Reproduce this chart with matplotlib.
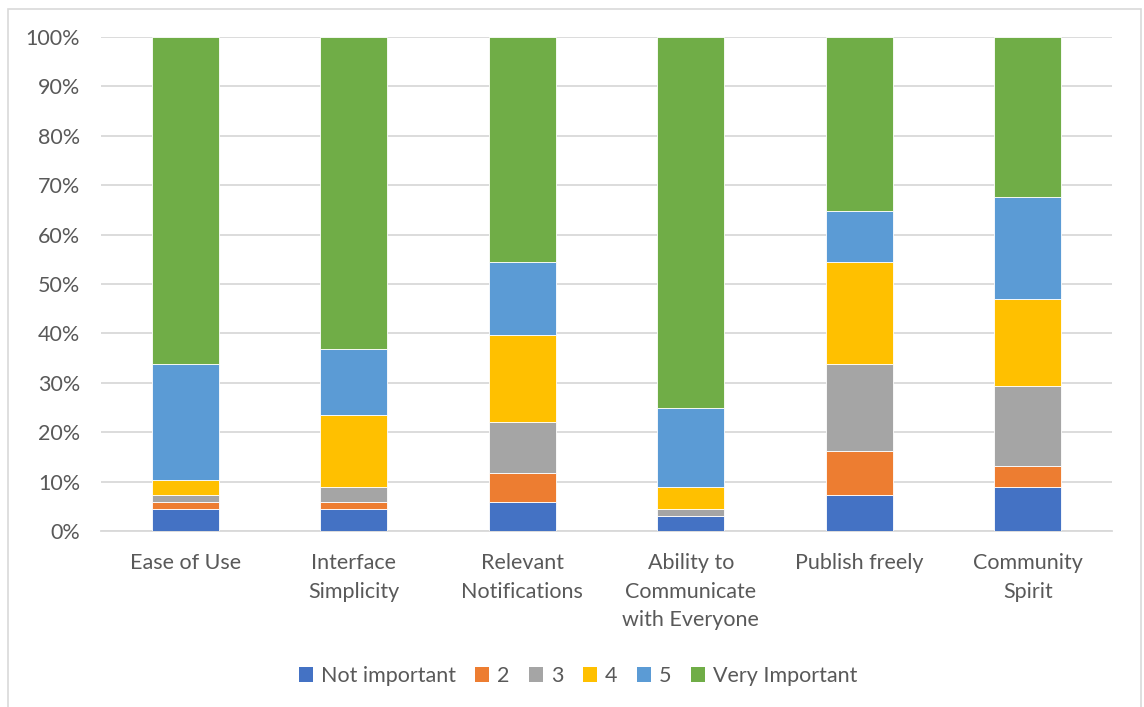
import matplotlib
matplotlib.use("Agg")
import matplotlib.pyplot as plt
from matplotlib.patches import Rectangle, Patch
import numpy as np

# Survey responses (number of respondents per rating)
categories = ["Ease of Use", "Interface\nSimplicity", "Relevant\nNotifications",
              "Ability to\nCommunicate\nwith Everyone", "Publish freely", "Community\nSpirit"]
series_names = ["Not important", "2", "3", "4", "5", "Very Important"]
not_important = [3, 3, 4, 2, 5, 6]
rating_2 = [1, 1, 4, 0, 6, 3]
rating_3 = [1, 2, 7, 1, 12, 11]
rating_4 = [2, 10, 12, 3, 14, 12]
rating_5 = [16, 9, 10, 11, 7, 14]
very_important = [45, 43, 31, 51, 24, 22]
y_tick_labels = ["0%", "10%", "20%", "30%", "40%", "50%", "60%", "70%", "80%", "90%", "100%"]

colors = ["#4472C4", "#ED7D31", "#A5A5A5", "#FFC000", "#5B9BD5", "#70AD47"]
text_color = "#595959"
fs = 15.5

plt.rcParams["font.family"] = ["Lato", "DejaVu Sans"]

series = np.array([not_important, rating_2, rating_3, rating_4, rating_5, very_important], dtype=float)
shares = series / series.sum(axis=0) * 100

fig = plt.figure(figsize=(11.44, 7.07), dpi=100)
ax = fig.add_axes([101 / 1144, 176 / 707, 1011 / 1144, 494 / 707])

x = np.arange(len(categories))
bottom = np.zeros(len(categories))
for vals, name, col in zip(shares, series_names, colors):
    ax.bar(x, vals, bottom=bottom, width=0.4, color=col, edgecolor="white",
           linewidth=0.6, label=name, zorder=3)
    bottom += vals

ax.set_xlim(-0.5, len(categories) - 0.5)
ax.set_ylim(0, 100)
ax.set_yticks(np.arange(0, 101, 10))
ax.set_yticklabels(y_tick_labels)
ax.set_xticks(x)
ax.set_xticklabels(categories, linespacing=1.52)
ax.grid(axis="y", color="#D9D9D9", linewidth=1.3, zorder=0)
for side in ["top", "right", "left"]:
    ax.spines[side].set_visible(False)
ax.spines["bottom"].set_color("#D9D9D9")
ax.spines["bottom"].set_linewidth(1.3)
ax.tick_params(axis="y", length=0, pad=15, labelsize=fs, labelcolor=text_color)
ax.tick_params(axis="x", length=0, pad=16, labelsize=fs, labelcolor=text_color)

handles = [Patch(facecolor=c, edgecolor="none") for c in colors]
fig.legend(handles, series_names, loc="center", bbox_to_anchor=(578 / 1144, 1 - 676 / 707),
           ncol=6, frameon=False, fontsize=fs, labelcolor=text_color,
           handlelength=0.65, handleheight=0.65, handletextpad=0.37, columnspacing=0.9)

# chart area border
fig.patches.append(Rectangle((8 / 1144, -0.05), 1133 / 1144, 1 - 9 / 707 + 0.05,
                             transform=fig.transFigure, fill=False,
                             edgecolor="#D9D9D9", linewidth=1.2))

fig.savefig("out.png", dpi=100)
